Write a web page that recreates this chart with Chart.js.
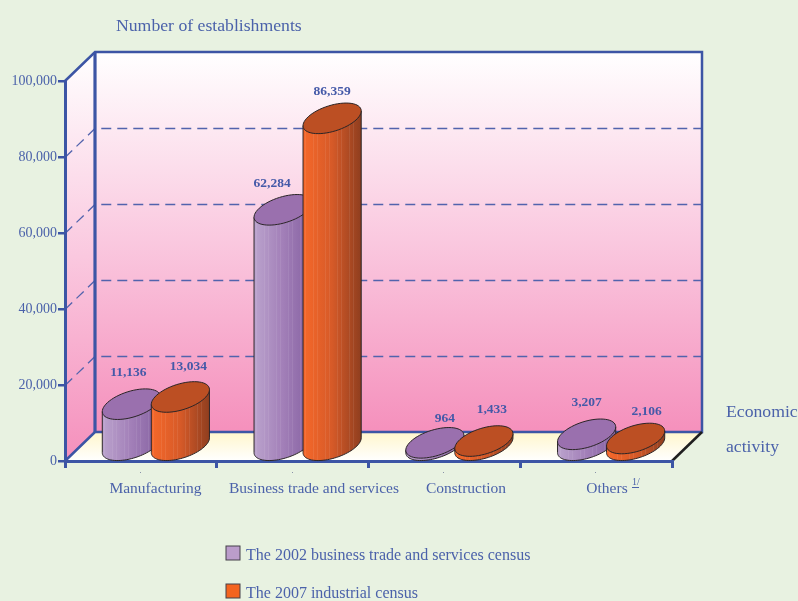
<!DOCTYPE html>
<html>
<head>
<meta charset="utf-8">
<title>Number of establishments</title>
<script src="https://cdn.jsdelivr.net/npm/chart.js@4"></script>
<style>
  html, body { margin: 0; padding: 0; background: #e8f2e1; overflow: hidden; }
  canvas { display: block; }
</style>
</head>
<body>
<canvas id="chart" width="798" height="601"></canvas>
<script>
const categories = ['Manufacturing', 'Business trade and services', 'Construction', 'Others'];
const census2002 = [11136, 62284, 964, 3207];
const census2007 = [13034, 86359, 1433, 2106];
const yTicks = [0, 20000, 40000, 60000, 80000, 100000];
const gridValues = [20000, 40000, 60000, 80000];

const seriesNames = ['The 2002 business trade and services census', 'The 2007 industrial census'];

// hand placement of the text, the original does not centre it
const labelNudge = [
    [[-3, -17], [-11, -12], [10, -10], [0, -17]],
    [[8, -16], [0, -12], [8, -17], [11, -12]]
];
const categoryCentres = [155.5, 314, 466, 607];

const BLUE = '#3c55a5';
const TEXT = '#4b62aa';
const SERIF = '"Liberation Serif", "Times New Roman", serif';
const DEPTH_X = 30;
const DEPTH_Y = 29;
const LEAN = 14;   // sideways lean of the cylinder ellipses
const HALF_H = 15.3;

const palette = [
    { left: '#bba3cd', mid: '#a27fb8', right: '#8460a0', top: '#9a70ae', swatch: '#bb9dcb' },
    { left: '#f6682a', mid: '#d65a28', right: '#8f3e1f', top: '#bc4f23', swatch: '#f4641f' }
];

function ellipsePoint(cx, cy, r, t) {
    return [cx + r * Math.cos(t) + LEAN * Math.sin(t), cy - HALF_H * Math.sin(t)];
}

function drawCylinder(ctx, el, colors) {
    const r = el.width / 2 + 1;
    const cx = el.x + DEPTH_X / 2;
    const topY = el.y - DEPTH_Y / 2;
    const baseY = el.base - DEPTH_Y / 2;
    const t0 = Math.atan2(LEAN, r);
    const reach = Math.hypot(r, LEAN);

    // body: side edges plus the lower half of the base ellipse
    const body = new Path2D();
    let p = ellipsePoint(cx, topY, r, t0);
    body.moveTo(p[0], p[1]);
    for (let i = 0; i <= 40; i++) {
        p = ellipsePoint(cx, baseY, r, t0 - Math.PI * i / 40);
        body.lineTo(p[0], p[1]);
    }
    p = ellipsePoint(cx, topY, r, t0 - Math.PI);
    body.lineTo(p[0], p[1]);
    body.closePath();

    const grad = ctx.createLinearGradient(cx - reach, 0, cx + reach, 0);
    grad.addColorStop(0, colors.left);
    grad.addColorStop(0.5, colors.mid);
    grad.addColorStop(1, colors.right);
    ctx.fillStyle = grad;
    ctx.fill(body);

    // thin vertical shading stripes
    ctx.save();
    ctx.clip(body);
    ctx.fillStyle = 'rgba(255,255,255,0.08)';
    for (let x = Math.round(cx - reach) + 2, n = 0; x < cx + reach; x += 4, n++) {
        if (n % 3 !== 1) ctx.fillRect(x, el.y - DEPTH_Y, 1, el.base - el.y + DEPTH_Y);
    }
    ctx.restore();

    ctx.strokeStyle = '#2b2527';
    ctx.lineWidth = 1;
    ctx.stroke(body);

    ctx.beginPath();
    for (let i = 0; i <= 60; i++) {
        p = ellipsePoint(cx, topY, r, Math.PI * 2 * i / 60);
        if (i === 0) ctx.moveTo(p[0], p[1]); else ctx.lineTo(p[0], p[1]);
    }
    ctx.closePath();
    ctx.fillStyle = colors.top;
    ctx.fill();
    ctx.stroke();
}

const box3d = {
    id: 'box3d',
    beforeDraw(chart) {
        const { ctx, chartArea: a, scales: { y } } = chart;
        const backLeft = a.left + DEPTH_X, backRight = a.right + DEPTH_X;
        const backTop = a.top - DEPTH_Y, backBottom = a.bottom - DEPTH_Y;
        ctx.save();

        const wall = ctx.createLinearGradient(0, backTop, 0, backBottom);
        wall.addColorStop(0, '#ffffff');
        wall.addColorStop(0.5, '#fac8df');
        wall.addColorStop(1, '#f590bc');
        ctx.fillStyle = wall;
        ctx.fillRect(backLeft, backTop, backRight - backLeft, backBottom - backTop);

        const side = ctx.createLinearGradient(0, a.top - DEPTH_Y, 0, a.bottom);
        side.addColorStop(0, '#ffffff');
        side.addColorStop(0.5, '#fac8df');
        side.addColorStop(1, '#f590bc');
        ctx.fillStyle = side;
        ctx.beginPath();
        ctx.moveTo(a.left, a.top);
        ctx.lineTo(backLeft, backTop);
        ctx.lineTo(backLeft, backBottom);
        ctx.lineTo(a.left, a.bottom);
        ctx.closePath();
        ctx.fill();

        const floor = ctx.createLinearGradient(0, backBottom, 0, a.bottom);
        floor.addColorStop(0, '#fff6cc');
        floor.addColorStop(1, '#ffffff');
        ctx.fillStyle = floor;
        ctx.beginPath();
        ctx.moveTo(a.left, a.bottom);
        ctx.lineTo(a.right, a.bottom);
        ctx.lineTo(backRight, backBottom);
        ctx.lineTo(backLeft, backBottom);
        ctx.closePath();
        ctx.fill();

        // dashed grid, runs up the side wall and along the back wall
        ctx.strokeStyle = '#5263ad';
        ctx.lineWidth = 1.3;
        ctx.setLineDash([10, 6]);
        gridValues.forEach(v => {
            const py = Math.round(y.getPixelForValue(v) - DEPTH_Y) + 0.5;
            ctx.beginPath();
            ctx.moveTo(a.left, py + DEPTH_Y);
            ctx.lineTo(backLeft, py);
            ctx.lineTo(backRight, py);
            ctx.stroke();
        });
        ctx.setLineDash([]);

        // box edges
        ctx.strokeStyle = BLUE;
        ctx.lineWidth = 2.5;
        ctx.beginPath();
        ctx.moveTo(a.left, a.top);
        ctx.lineTo(backLeft, backTop);
        ctx.lineTo(backRight, backTop);
        ctx.lineTo(backRight, backBottom);
        ctx.lineTo(backLeft, backBottom);
        ctx.moveTo(backLeft, backBottom);
        ctx.lineTo(a.left, a.bottom);
        ctx.stroke();
        ctx.lineWidth = 3.2;
        ctx.beginPath();
        ctx.moveTo(backLeft, backTop);
        ctx.lineTo(backLeft, backBottom);
        ctx.stroke();

        ctx.strokeStyle = '#1f1f1f';
        ctx.lineWidth = 2.5;
        ctx.beginPath();
        ctx.moveTo(a.right, a.bottom);
        ctx.lineTo(backRight, backBottom);
        ctx.stroke();

        ctx.restore();
    },
    afterDatasetsDraw(chart) {
        const { ctx, scales: { x } } = chart;
        ctx.save();
        categories.forEach((c, i) => {
            chart.data.datasets.forEach((ds, d) => {
                drawCylinder(ctx, chart.getDatasetMeta(d).data[i], palette[d]);
            });
        });

        ctx.fillStyle = '#4459a8';
        ctx.textAlign = 'center';
        ctx.textBaseline = 'middle';
        ctx.font = 'bold 13.5px ' + SERIF;
        chart.data.datasets.forEach((ds, d) => {
            chart.getDatasetMeta(d).data.forEach((el, i) => {
                const n = labelNudge[d][i];
                ctx.fillText(ds.data[i].toLocaleString('en-US'), el.x + DEPTH_X / 2 + n[0], el.y - DEPTH_Y + n[1]);
            });
        });

        // category labels, with the little printer's dot under each band centre
        ctx.fillStyle = '#8a93a8';
        categories.forEach((c, i) => {
            ctx.fillRect(Math.round(x.getPixelForTick(i)) - 1, 472, 1, 1);
        });
        ctx.fillStyle = TEXT;
        ctx.textBaseline = 'alphabetic';
        ctx.font = '15.5px ' + SERIF;
        categories.forEach((c, i) => {
            ctx.fillText(c, categoryCentres[i], 493);
        });
        ctx.textAlign = 'left';
        ctx.font = '10px ' + SERIF;
        ctx.fillText('1/', 632, 485);
        ctx.fillRect(632, 487, 7, 1);

        ctx.font = '17.7px ' + SERIF;
        ctx.fillText('Number of establishments', 116, 31);
        ctx.fillText('Economic', 726, 417);
        ctx.fillText('activity', 726, 452);

        // legend
        ctx.font = '16px ' + SERIF;
        seriesNames.forEach((name, d) => {
            const rowY = d === 0 ? 546 : 584;
            ctx.fillStyle = palette[d].swatch;
            ctx.strokeStyle = '#45404a';
            ctx.lineWidth = 1;
            ctx.fillRect(226, rowY, 14, 14);
            ctx.strokeRect(226, rowY, 14, 14);
            ctx.fillStyle = TEXT;
            ctx.fillText(name, 246, rowY + 14);
        });
        ctx.restore();
    }
};

new Chart(document.getElementById('chart').getContext('2d'), {
    type: 'bar',
    data: {
        labels: categories,
        datasets: [
            { label: seriesNames[0], data: census2002, backgroundColor: 'transparent', barThickness: 49 },
            { label: seriesNames[1], data: census2007, backgroundColor: 'transparent', barThickness: 49 }
        ]
    },
    options: {
        responsive: false,
        animation: false,
        layout: { padding: { top: 81, right: 126, left: 0, bottom: 0 } },
        plugins: { legend: { display: false }, tooltip: { enabled: false } },
        scales: {
            x: {
                afterFit(scale) { scale.height = 140; },
                border: { color: BLUE, width: 3 },
                grid: { drawOnChartArea: false, color: BLUE, lineWidth: 3, tickLength: 7 },
                ticks: { display: false }
            },
            y: {
                min: 0,
                max: 100000,
                afterFit(scale) { scale.width = 65; },
                afterBuildTicks(scale) { scale.ticks = yTicks.map(v => ({ value: v })); },
                border: { color: BLUE, width: 3 },
                grid: { drawOnChartArea: false, color: BLUE, lineWidth: 2.5, tickLength: 7 },
                ticks: {
                    color: TEXT,
                    padding: 1,
                    font: { family: SERIF, size: 14 },
                    callback: v => v.toLocaleString('en-US')
                }
            }
        }
    },
    plugins: [box3d]
});
</script>
</body>
</html>
